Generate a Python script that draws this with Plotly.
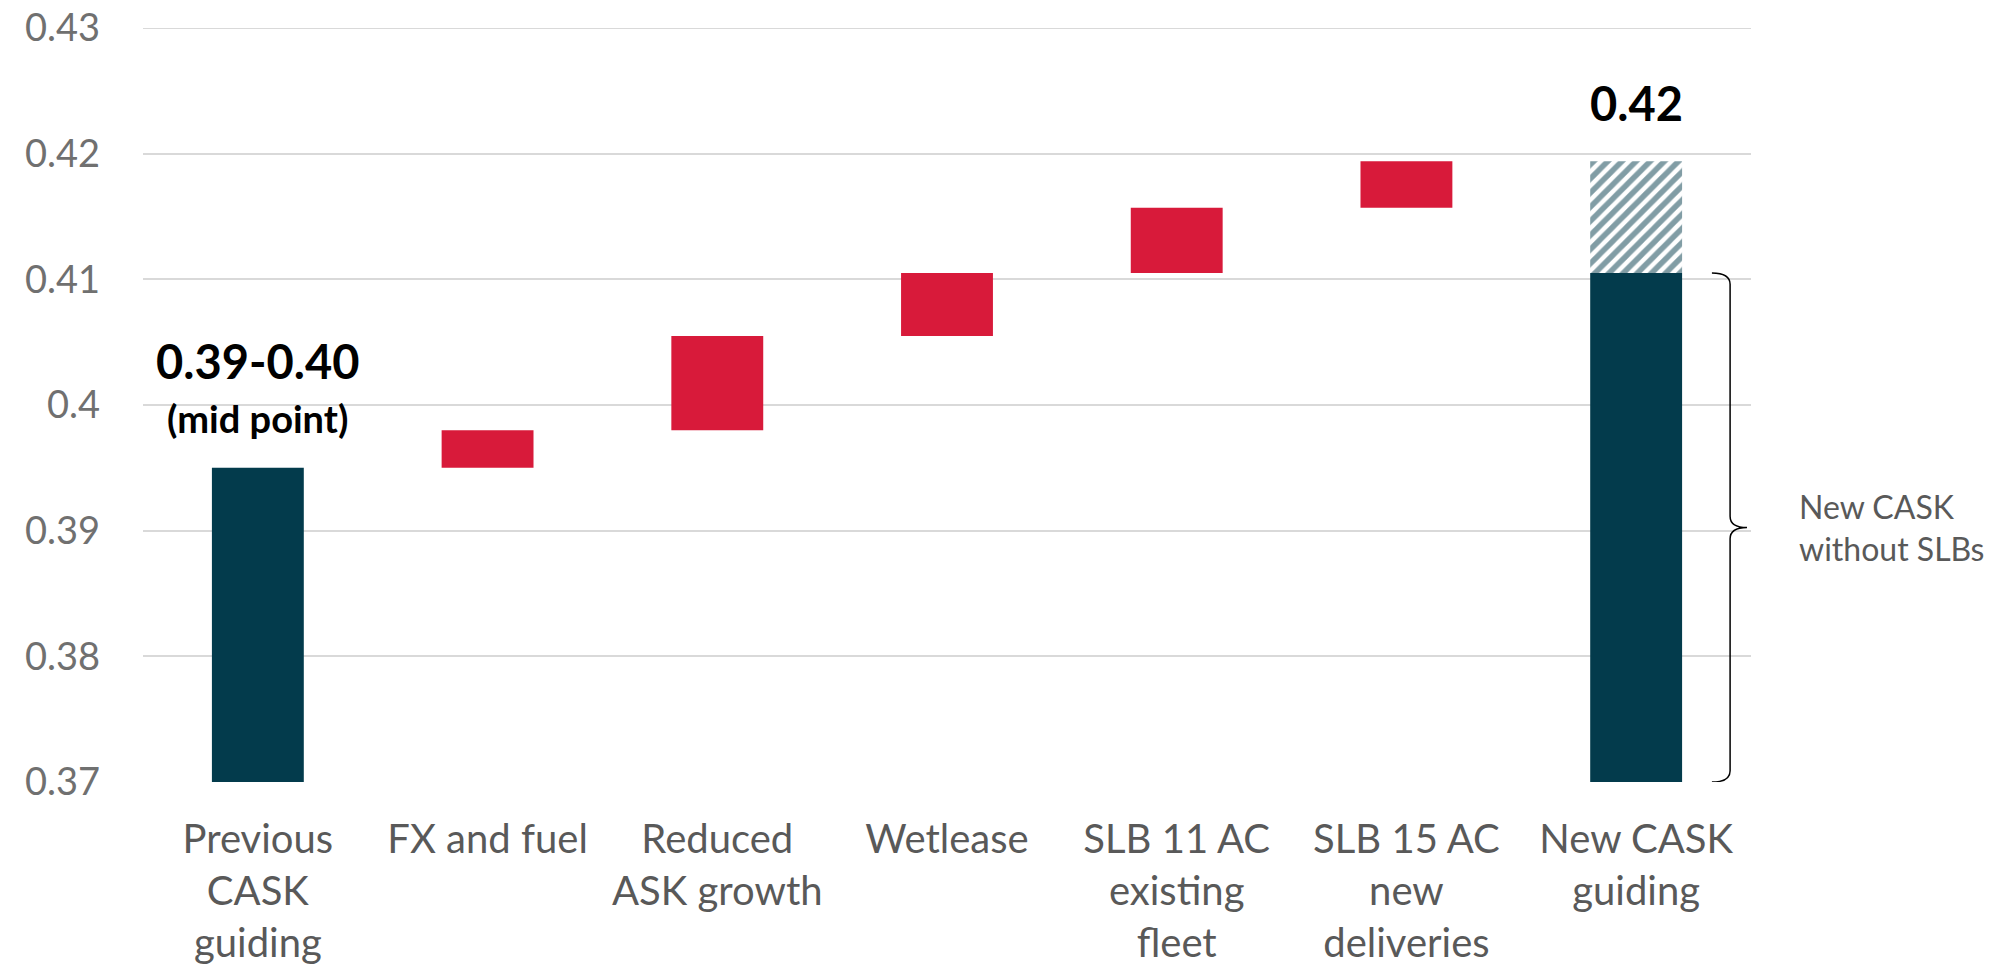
import plotly.graph_objects as go

# Categories on the x axis
categories = [
    "Previous<br>CASK<br>guiding",
    "FX and fuel",
    "Reduced<br>ASK growth",
    "Wetlease",
    "SLB 11 AC<br>existing<br>fleet",
    "SLB 15 AC<br>new<br>deliveries",
    "New CASK<br>guiding",
]

# Values
previous_cask = 0.395                     # mid point of 0.39-0.40
step_labels = categories[1:6]
step_values = [0.003, 0.0075, 0.005, 0.0052, 0.0037]
new_cask_without_slb = 0.4105
new_cask = 0.4194

y_ticks = [0.37, 0.38, 0.39, 0.40, 0.41, 0.42, 0.43]

DARK = "#033B4C"
RED = "#D81A3A"
GREY_TEXT = "#595959"
GREY_TICK = "#707070"
GRID = "#D9D9D9"
FONT = "Lato"

# cumulative bases for the floating bars
bases = []
running = previous_cask
for v in step_values:
    bases.append(running)
    running += v

fig = go.Figure()

fig.add_trace(go.Bar(
    x=[categories[0]], y=[previous_cask],
    marker=dict(color=DARK, line=dict(width=0)), width=0.4,
    hoverinfo="skip",
))

fig.add_trace(go.Bar(
    x=step_labels, y=step_values, base=bases,
    marker=dict(color=RED, line=dict(width=0)), width=0.4,
    hoverinfo="skip",
))

fig.add_trace(go.Bar(
    x=[categories[6]], y=[new_cask_without_slb],
    marker=dict(color=DARK, line=dict(width=0)), width=0.4,
    hoverinfo="skip",
))

fig.add_trace(go.Bar(
    x=[categories[6]], y=[new_cask - new_cask_without_slb], base=[new_cask_without_slb],
    marker=dict(
        color="white",
        line=dict(width=0),
        pattern=dict(shape="/", fgcolor=DARK, bgcolor="white", size=10, solidity=0.55),
    ),
    width=0.4,
    hoverinfo="skip",
))

# Value labels
fig.add_annotation(x=categories[0], y=previous_cask, text="<b>0.39-0.40</b>",
                   showarrow=False, yanchor="middle", yshift=107,
                   font=dict(family=FONT, size=47, color="#000000"))
fig.add_annotation(x=categories[0], y=previous_cask, text="<b>(mid point)</b>",
                   showarrow=False, yanchor="middle", yshift=50,
                   font=dict(family=FONT, size=38, color="#000000"))
fig.add_annotation(x=categories[6], y=new_cask, text="<b>%.2f</b>" % new_cask,
                   showarrow=False, yanchor="middle", yshift=58,
                   font=dict(family=FONT, size=47, color="#000000"))

# Gridline on the top edge of the value range
fig.add_shape(type="line", xref="paper", yref="y", x0=0, x1=1,
              y0=y_ticks[-1], y1=y_ticks[-1], line=dict(color=GRID, width=2),
              layer="below")

# Curly brace marking the part of the final bar without SLBs
xa, xb, xt = 0.9757, 0.987, 0.9975
y_top, y_bot = new_cask_without_slb, y_ticks[0]
y_mid = (y_top + y_bot) / 2
r = 0.0009
brace = (
    f"M {xa},{y_top} Q {xb},{y_top} {xb},{y_top - r} "
    f"L {xb},{y_mid + r} Q {xb},{y_mid} {xt},{y_mid} "
    f"Q {xb},{y_mid} {xb},{y_mid - r} "
    f"L {xb},{y_bot + r} Q {xb},{y_bot} {xa},{y_bot}"
)
fig.add_shape(type="path", path=brace, xref="paper", yref="y",
              line=dict(color="#000000", width=1.5))

fig.add_annotation(x=1.0286, y=y_mid, xref="paper", yref="y",
                   text="New CASK<br>without SLBs", showarrow=False,
                   xanchor="left", yanchor="middle", align="left",
                   font=dict(family=FONT, size=32, color=GREY_TEXT))

fig.update_layout(
    width=2007, height=976,
    margin=dict(l=143, r=256, t=28, b=194),
    plot_bgcolor="white", paper_bgcolor="white",
    barmode="overlay",
    showlegend=False,
    font=dict(family=FONT, color=GREY_TEXT),
)

fig.update_xaxes(
    type="category", categoryorder="array", categoryarray=categories,
    showgrid=False, showline=False, zeroline=False, ticks="",
    tickfont=dict(family=FONT, size=40, color=GREY_TEXT),
    ticklabelstandoff=30, automargin=False,
)

fig.update_yaxes(
    range=[y_ticks[0], y_ticks[-1]],
    tickvals=y_ticks, ticktext=["%g" % v for v in y_ticks],
    showgrid=True, gridcolor=GRID, gridwidth=2,
    showline=False, zeroline=False, ticks="",
    tickfont=dict(family=FONT, size=38, color=GREY_TICK),
    ticklabelstandoff=42, automargin=False,
)

fig.write_html("out.html")
